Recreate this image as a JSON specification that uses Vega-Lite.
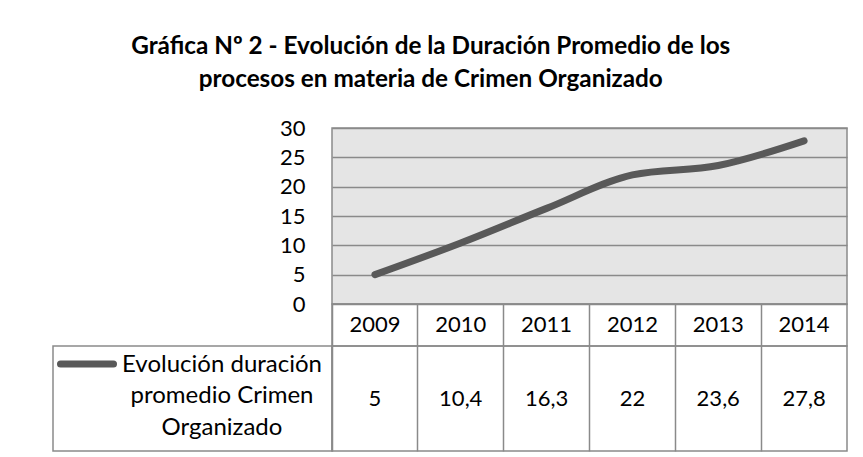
{
  "$schema": "https://vega.github.io/schema/vega-lite/v6.json",
  "padding": {"left": 45, "top": 34, "right": 10, "bottom": 5},
  "background": "white",
  "title": {
    "text": ["Gráfica Nº 2 - Evolución de la Duración Promedio de los", "procesos en materia de Crimen Organizado"],
    "fontSize": 24.3, "font": "Lato", "fontWeight": "bold", "color": "black",
    "lineHeight": 33, "anchor": "middle", "offset": 24, "dx": -16
  },
  "datasets": {
    "d": [
      {"year": "2009", "value": 5},
      {"year": "2010", "value": 10.4},
      {"year": "2011", "value": 16.3},
      {"year": "2012", "value": 22},
      {"year": "2013", "value": 23.6},
      {"year": "2014", "value": 27.8}
    ]
  },
  "columns": 2,
  "spacing": 0,
  "bounds": "flush",
  "align": "each",
  "concat": [
    {
      "width": 279, "height": 176,
      "data": {"values": [{}]},
      "mark": {"type": "point", "opacity": 0},
      "view": {"stroke": null}
    },
    {
      "width": 515, "height": 176,
      "data": {"name": "d"},
      "view": {"fill": "#e5e5e5", "stroke": "#8a8a8a", "strokeWidth": 1.5},
      "mark": {"type": "line", "color": "#595959", "strokeWidth": 7, "strokeCap": "round", "strokeJoin": "round", "interpolate": "monotone"},
      "encoding": {
        "x": {"field": "year", "type": "ordinal", "scale": {"type": "point", "padding": 0.5}, "axis": null},
        "y": {
          "field": "value", "type": "quantitative",
          "scale": {"domain": [0, 30], "nice": false, "zero": true},
          "axis": {"values": [0, 5, 10, 15, 20, 25, 30], "grid": true, "gridColor": "#8a8a8a", "gridWidth": 1.5,
                   "domain": false, "ticks": false, "labelFontSize": 22, "labelColor": "black", "labelPadding": 27,
                   "labelFont": "Lato", "title": null}
        }
      }
    },
    {
      "width": 279, "height": 42,
      "data": {"values": [{}]},
      "mark": {"type": "point", "opacity": 0},
      "view": {"stroke": null}
    },
    {
      "width": 515, "height": 42,
      "data": {"name": "d"},
      "view": {"stroke": "#8a8a8a", "strokeWidth": 1.5},
      "mark": {"type": "text", "fontSize": 22, "color": "black", "baseline": "middle"},
      "encoding": {
        "x": {"field": "year", "type": "ordinal", "scale": {"type": "band", "paddingInner": 0, "paddingOuter": 0},
              "axis": {"grid": true, "bandPosition": 0, "gridColor": "#8a8a8a", "gridWidth": 1.5, "labels": false, "ticks": false, "domain": false, "title": null}},
        "text": {"field": "year", "type": "nominal"}
      }
    },
    {
      "width": 279, "height": 105,
      "data": {"values": [{}]},
      "view": {"stroke": "#8a8a8a", "strokeWidth": 1.5},
      "layer": [
        {
          "mark": {"type": "point", "shape": "stroke", "size": 2809, "filled": false, "color": "#595959", "strokeWidth": 7, "strokeCap": "round", "opacity": 1, "xOffset": -105.5, "yOffset": -34.5}
        },
        {
          "mark": {"type": "text", "text": ["Evolución duración", "promedio Crimen", "Organizado"], "fontSize": 24, "color": "black",
                   "align": "center", "baseline": "middle", "lineHeight": 31.5, "dx": 29.5, "dy": -34}
        }
      ]
    },
    {
      "width": 515, "height": 105,
      "data": {"name": "d"},
      "view": {"stroke": "#8a8a8a", "strokeWidth": 1.5},
      "mark": {"type": "text", "fontSize": 22, "color": "black", "baseline": "middle"},
      "encoding": {
        "x": {"field": "year", "type": "ordinal", "scale": {"type": "band", "paddingInner": 0, "paddingOuter": 0},
              "axis": {"grid": true, "bandPosition": 0, "gridColor": "#8a8a8a", "gridWidth": 1.5, "labels": false, "ticks": false, "domain": false, "title": null}},
        "text": {"field": "value", "type": "quantitative", "format": ".1~f"}
      }
    }
  ],
  "config": {
    "font": "Lato",
    "text": {"font": "Lato"},
    "locale": {"number": {"decimal": ",", "thousands": ".", "grouping": [3], "currency": ["", " €"]}}
  }
}
